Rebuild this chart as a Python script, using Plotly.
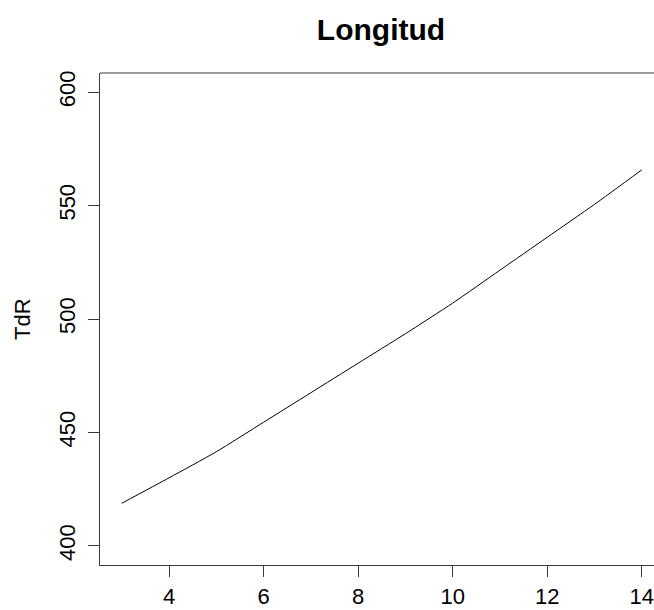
import plotly.graph_objects as go

# Fitted effect of Longitud on TdR
longitud = [3, 4, 5, 6, 7, 8, 9, 10, 11, 12, 13, 14]
tdr = [418.8, 430.0, 441.5, 454.5, 467.5, 480.5, 493.5, 507.0, 521.5, 536.0, 550.5, 565.7]

x_ticks = [4, 6, 8, 10, 12, 14]
y_ticks = [400, 450, 500, 550, 600]

font_family = "Liberation Sans, Arial, sans-serif"
axis_color = "#3a3a3a"

fig = go.Figure()
fig.add_trace(go.Scatter(
    x=longitud, y=tdr, mode="lines",
    line=dict(color="black", width=1, shape="spline", smoothing=0.6),
    hoverinfo="skip", showlegend=False,
))

fig.update_layout(
    width=654, height=610,
    margin=dict(l=100, r=0, t=73, b=45),
    paper_bgcolor="white", plot_bgcolor="white",
    font=dict(family=font_family, size=22, color="black"),
    title=dict(text="<b>Longitud</b>", x=381 / 654, xanchor="center",
               y=1 - 29 / 610, yanchor="middle",
               font=dict(family=font_family, size=30, color="black")),
    xaxis=dict(range=[2.54, 14.26], tickvals=x_ticks, ticks="outside",
               ticklen=11, tickcolor=axis_color, tickwidth=1,
               showline=True, linecolor=axis_color, linewidth=1,
               showgrid=False, zeroline=False, ticklabelstandoff=1,
               automargin=False, tickfont=dict(size=22)),
    yaxis=dict(range=[391.6, 608.4], tickvals=y_ticks, ticks="outside",
               ticklen=11, tickcolor=axis_color, tickwidth=1,
               showline=True, linecolor=axis_color, linewidth=1,
               showgrid=False, zeroline=False, tickangle=-90,
               ticklabelstandoff=4, automargin=False,
               tickfont=dict(size=22)),
    shapes=[dict(type="line", xref="paper", yref="paper", x0=0, x1=1,
                 y0=1, y1=1, line=dict(color=axis_color, width=1))],
    annotations=[dict(text="TdR", xref="paper", yref="paper",
                      x=-78 / 554, y=0.5, xanchor="center", yanchor="middle",
                      textangle=-90, showarrow=False,
                      font=dict(family=font_family, size=22, color="black"))],
)

fig.write_html("out.html")
